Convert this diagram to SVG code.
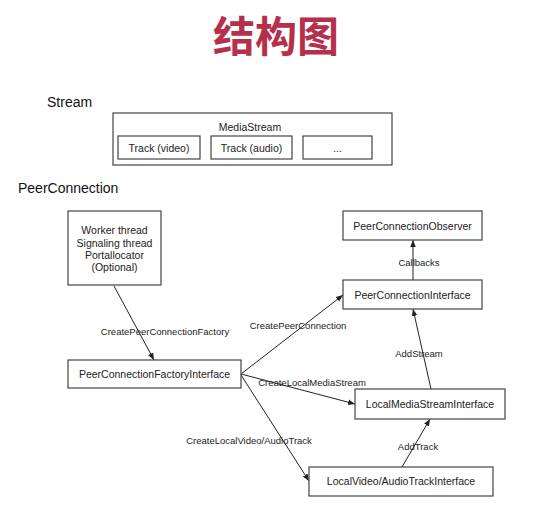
<svg xmlns="http://www.w3.org/2000/svg" width="547" height="512" viewBox="0 0 547 512">
<defs>
<marker id="ah" viewBox="0 0 10 10" refX="10" refY="5" markerWidth="7" markerHeight="7" markerUnits="userSpaceOnUse" orient="auto">
<path d="M0,1 L10,5 L0,9 Z" fill="#222"/>
</marker>
<style>
.box{fill:#fff;stroke:#444;stroke-width:1.2}
.t{font-family:"Liberation Sans",Arial,sans-serif;fill:#222;text-anchor:middle}
.n{font-size:10.5px}
.l{font-size:9.5px}
.h{font-family:"Liberation Sans",Arial,sans-serif;font-size:14px;fill:#111}
.c{stroke:#222;stroke-width:1;fill:none;marker-end:url(#ah)}
</style>
</defs>
<rect width="547" height="512" fill="#fff"/>
<text x="276" y="52" font-family="'Noto Sans CJK SC',sans-serif" font-size="42" font-weight="bold" fill="#b5304a" text-anchor="middle">结构图</text>
<text class="h" x="47" y="107">Stream</text>
<g id="mediastream">
<rect class="box" x="113" y="113" width="279" height="52"/>
<text class="t n" x="250" y="131">MediaStream</text>
</g>
<g id="track-video">
<rect class="box" x="118" y="136" width="82" height="23"/>
<text class="t n" x="159" y="151.5">Track (video)</text>
</g>
<g id="track-audio">
<rect class="box" x="211" y="136" width="81" height="23"/>
<text class="t n" x="251.5" y="151.5">Track (audio)</text>
</g>
<g id="track-more">
<rect class="box" x="303" y="136" width="69" height="23"/>
<text class="t n" x="337.5" y="151.5">...</text>
</g>
<text class="h" x="18" y="193">PeerConnection</text>
<g id="connectors">
<line class="c" x1="114" y1="286" x2="154" y2="360"/>
<line class="c" x1="241" y1="374" x2="343" y2="295"/>
<line class="c" x1="241" y1="374" x2="355" y2="404"/>
<line class="c" x1="241" y1="375" x2="309" y2="481"/>
<line class="c" x1="413" y1="280" x2="413" y2="240"/>
<line class="c" x1="431" y1="389" x2="413" y2="309"/>
<line class="c" x1="402" y1="467" x2="430" y2="419"/>
<text class="t l" x="165" y="335">CreatePeerConnectionFactory</text>
<text class="t l" x="298" y="329">CreatePeerConnection</text>
<text class="t l" x="312" y="386">CreateLocalMediaStream</text>
<text class="t l" x="249" y="444">CreateLocalVideo/AudioTrack</text>
<text class="t l" x="419" y="266">Callbacks</text>
<text class="t l" x="419" y="357">AddStream</text>
<text class="t l" x="418" y="450">AddTrack</text>
</g>
<g id="worker">
<rect class="box" x="68" y="211" width="93" height="74"/>
<text class="t n" x="114.5" y="234">Worker thread</text>
<text class="t n" x="114.5" y="246.5">Signaling thread</text>
<text class="t n" x="114.5" y="258.5">Portallocator</text>
<text class="t n" x="114.5" y="271">(Optional)</text>
</g>
<g id="factory">
<rect class="box" x="68" y="360" width="173" height="28"/>
<text class="t n" x="154.5" y="378">PeerConnectionFactoryInterface</text>
</g>
<g id="observer">
<rect class="box" x="343" y="211" width="139" height="29"/>
<text class="t n" x="412.5" y="229.5">PeerConnectionObserver</text>
</g>
<g id="pcinterface">
<rect class="box" x="343" y="280" width="139" height="29"/>
<text class="t n" x="412.5" y="298.5">PeerConnectionInterface</text>
</g>
<g id="localstream">
<rect class="box" x="355" y="389" width="150" height="30"/>
<text class="t n" x="430" y="408">LocalMediaStreamInterface</text>
</g>
<g id="localtrack">
<rect class="box" x="309" y="467" width="184" height="29"/>
<text class="t n" x="401" y="485">LocalVideo/AudioTrackInterface</text>
</g>
</svg>
